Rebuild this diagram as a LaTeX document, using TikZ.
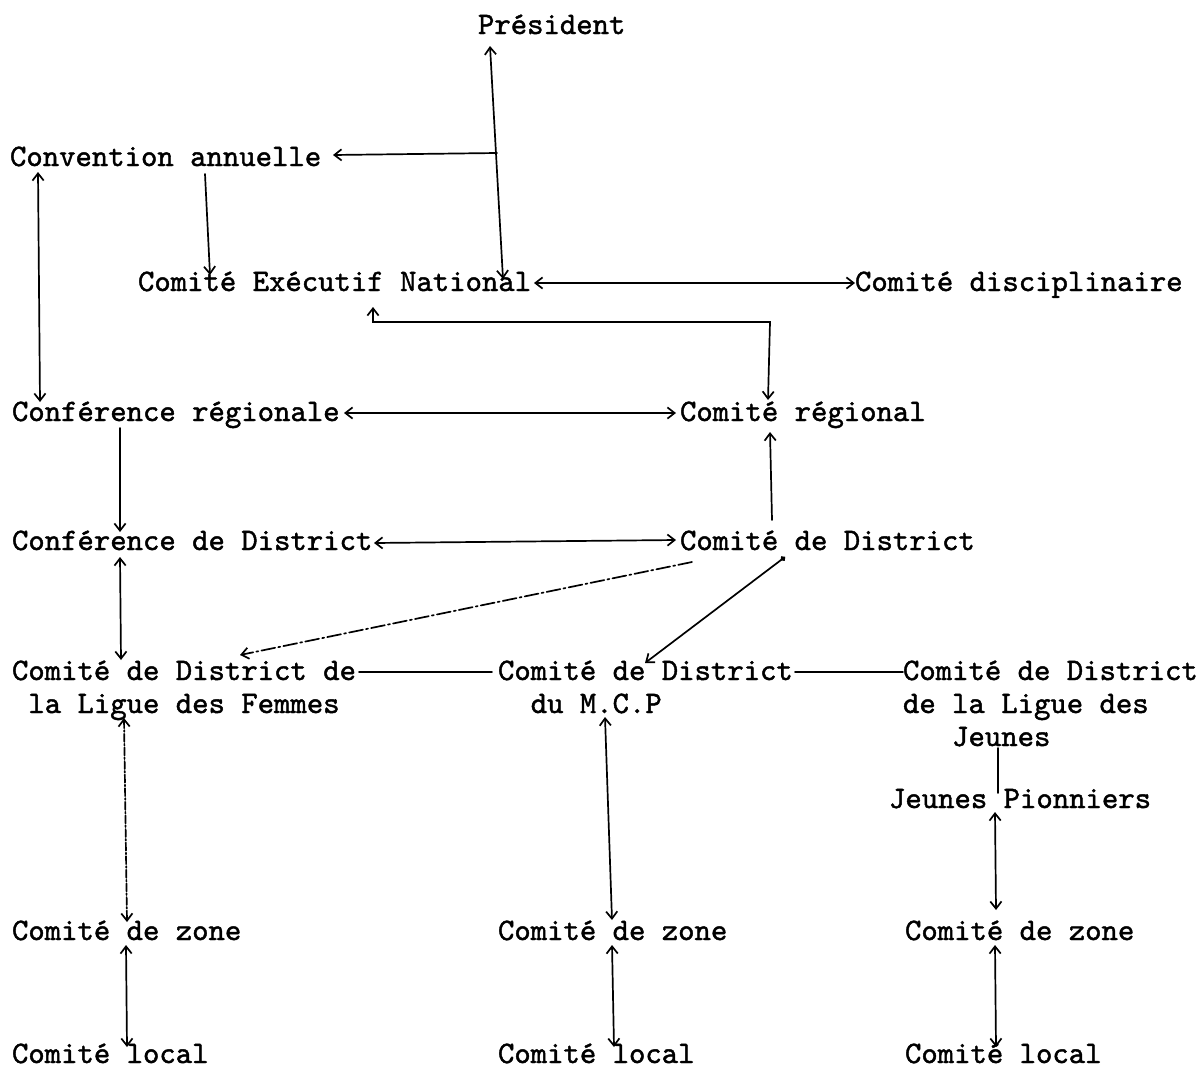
\documentclass[tikz,border=0pt]{standalone}
\usepackage{fontspec}
\newfontfamily\typewriter{lmmono10-regular.otf}[FakeBold=1.4]
\usetikzlibrary{arrows.meta,calc}

% stacked lines inside one node, aligned on the first baseline
\newcommand{\orgstack}[1]{\begin{tabular}[t]{@{}l@{}}#1\end{tabular}}

\tikzset{
  unit/.style={font=\typewriter\fontsize{15.6}{16.5}\selectfont,
    anchor=base west, inner sep=0pt, outer sep=0pt},
  link/.style={line width=0.85pt, line cap=round},
  dbl/.style={link, {Straight Barb[length=3.6pt,width=5.6pt]}-{Straight Barb[length=3.6pt,width=5.6pt]}},
  fwd/.style={link, -{Straight Barb[length=3.6pt,width=5.6pt]}},
  dashdot/.style={dash pattern=on 7pt off 1.6pt on 1pt off 1.6pt},
  finedot/.style={dash pattern=on 4pt off 1pt on 0.8pt off 1pt},
}

\begin{document}
\begin{tikzpicture}[x=0.5pt,y=-0.5pt]
\useasboundingbox (0,0) rectangle (1204,1071);

% ---- organs ----
\node[unit] (pres)  at (478,34)   {Président};
\node[unit] (conv)  at (10,166)   {Convention annuelle};
\node[unit] (cen)   at (138,291)  {Comité Exécutif National};
\node[unit] (disc)  at (855,291)  {Comité disciplinaire};
\node[unit] (creg)  at (12,421)   {Conférence régionale};
\node[unit] (cr)    at (680,421)  {Comité régional};
\node[unit] (cdist) at (12,550)   {Conférence de District};
\node[unit] (cd)    at (680,550)  {Comité de District};
\node[unit] (fem)   at (12,680)   {\orgstack{Comité de District de\\\phantom{x}la Ligue des Femmes}};
\node[unit] (mcp)   at (498,680)  {\orgstack{Comité de District\\\phantom{xx}du M.C.P}};
\node[unit] (jeu)   at (903,680)  {\orgstack{Comité de District\\de la Ligue des\\\phantom{xxx}Jeunes}};
\node[unit] (pion)  at (889,808)  {Jeunes Pionniers};
\node[unit] (z1)    at (12,940)   {Comité de zone};
\node[unit] (z2)    at (498,940)  {Comité de zone};
\node[unit] (z3)    at (905,940)  {Comité de zone};
\node[unit] (l1)    at (12,1063)  {Comité local};
\node[unit] (l2)    at (498,1063) {Comité local};
\node[unit] (l3)    at (905,1063) {Comité local};

% ---- national level ----
\draw[dbl] ($(pres.base west)+(12,12)$) -- ($(cen.base west)+(365,-12)$);
\draw[fwd] ($(pres.base west)+(19,119)$) -- ($(conv.base west)+(323,-11)$);
\draw[fwd] ($(conv.base west)+(195,8)$) -- ($(cen.base west)+(72,-16)$);
\draw[dbl] ($(conv.base west)+(28,6)$) -- ($(creg.base west)+(28,-19)$);
\draw[dbl] ($(cen.base west)+(396,-8)$) -- ($(disc.base west)+(0,-8)$);
\draw[dbl] ($(cen.base west)+(235,16)$) |- ($(cr.base west)+(90,-99)$)
           -- ($(cr.base west)+(88,-21)$);

% ---- regional level ----
\draw[dbl] ($(creg.base west)+(332,-8)$) -- ($(cr.base west)+(-4,-8)$);
\draw[fwd] ($(creg.base west)+(108,7)$) -- ($(cdist.base west)+(108,-18)$);
\draw[fwd] ($(cd.base west)+(92,-30)$) -- ($(cr.base west)+(90,11)$);

% ---- district level ----
\draw[dbl] ($(cdist.base west)+(362,-7)$) -- ($(cd.base west)+(-4,-10)$);
\draw[dbl] ($(cdist.base west)+(108,7)$) -- ($(fem.base west)+(109,-20)$);
\draw[fwd, dashdot] ($(cd.base west)+(12,12)$) -- ($(fem.base west)+(228,-25)$);
\draw[link, {Circle[length=2.6pt]}-{Straight Barb[length=3.6pt,width=5.6pt]}]
     ($(cd.base west)+(105,7)$) -- ($(mcp.base west)+(147,-17)$);
\draw[link] ($(fem.base west)+(347,-8)$) -- ($(mcp.base west)+(-6,-8)$);
\draw[link] ($(mcp.base west)+(297,-8)$) -- ($(jeu.base west)+(0,-8)$);

% ---- women's league column ----
\draw[dbl, finedot] ($(fem.base west)+(112,38)$) -- ($(z1.base west)+(115,-18)$);
\draw[dbl] ($(z1.base west)+(114,5)$) -- ($(l1.base west)+(115,-16)$);

% ---- M.C.P column ----
\draw[dbl] ($(mcp.base west)+(107,37)$) -- ($(z2.base west)+(114,-20)$);
\draw[dbl] ($(z2.base west)+(114,5)$) -- ($(l2.base west)+(116,-16)$);

% ---- youth league column ----
\draw[link] ($(jeu.base west)+(95,68)$) -- ($(pion.base west)+(109,-15)$);
\draw[dbl] ($(pion.base west)+(106,4)$) -- ($(z3.base west)+(91,-30)$);
\draw[dbl] ($(z3.base west)+(90,5)$) -- ($(l3.base west)+(91,-16)$);
\end{tikzpicture}
\end{document}
